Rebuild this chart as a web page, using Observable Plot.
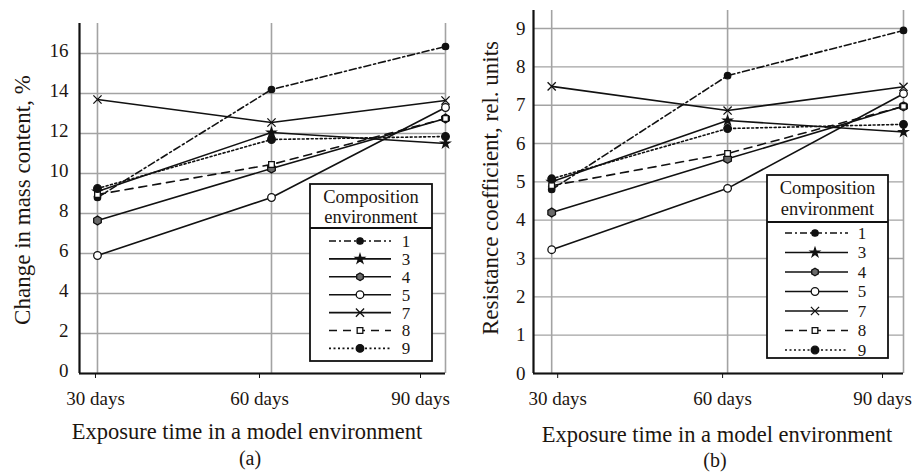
<!DOCTYPE html>
<html><head><meta charset="utf-8">
<script src="https://cdn.jsdelivr.net/npm/d3@7"></script>
<script src="https://cdn.jsdelivr.net/npm/@observablehq/plot@0.6"></script>
<style>
body{margin:0;background:#fff;}
#wrap{display:flex;width:917px;height:475px;overflow:hidden;}
#wrap svg{overflow:visible;display:block;}
</style></head><body><div id="wrap"></div>
<script>
// ---------- data ----------
const days = [30, 60, 90];
const dayTickLabels = ["30 days", "60 days", "90 days"];
const compositions = ["1", "3", "4", "5", "7", "8", "9"];
// (a) change in mass content, %  (rows follow compositions, columns follow days)
const massChange = [
  [8.8, 14.2, 16.35],
  [9.1, 12.05, 11.5],
  [7.65, 10.25, 12.75],
  [5.9, 8.8, 13.3],
  [13.7, 12.55, 13.65],
  [8.95, 10.45, 12.75],
  [9.25, 11.7, 11.85]
];
// (b) resistance coefficient, rel. units
const resistance = [
  [4.8, 7.77, 8.95],
  [5.0, 6.6, 6.3],
  [4.2, 5.6, 6.97],
  [3.23, 4.83, 7.3],
  [7.49, 6.86, 7.48],
  [4.9, 5.74, 6.97],
  [5.08, 6.39, 6.5]
];
const massTicks = [0, 2, 4, 6, 8, 10, 12, 14, 16];
const resistanceTicks = [0, 1, 2, 3, 4, 5, 6, 7, 8, 9];
const xTitle = "Exposure time in a model environment";
const massTitle = "Change in mass content, %";
const resistanceTitle = "Resistance coefficient, rel. units";
const legendTitle = ["Composition", "environment"];
const panelTags = ["(a)", "(b)"];

// ---------- styles ----------
const FONT = "'Liberation Serif', 'DejaVu Serif', serif";
const TEXT = "#1c1510";
const INK = "#111";
const GRID = "#a3a3a3";
const seriesStyle = {
  "1": {dash: "7,3,2,3", symbol: "circle", fill: INK, r: 3.2},
  "3": {dash: null, symbol: "star", fill: INK, r: 2.8},
  "4": {dash: null, symbol: "hexagon", fill: "#6a6a6a", r: 3.8},
  "5": {dash: null, symbol: "circle", fill: "white", r: 3.8},
  "7": {dash: null, symbol: "times", fill: "none", r: 3.8},
  "8": {dash: "8,6", symbol: "square", fill: "white", r: 3.2},
  "9": {dash: "2,2.5", symbol: "circle", fill: INK, r: 3.8}
};

const hexagon = {
  draw(context, size) {
    const rx = Math.sqrt(size / Math.PI), hy = rx * Math.sqrt(3) / 2;
    context.moveTo(0, rx);
    context.lineTo(hy, rx / 2);
    context.lineTo(hy, -rx / 2);
    context.lineTo(0, -rx);
    context.lineTo(-hy, -rx / 2);
    context.lineTo(-hy, rx / 2);
    context.closePath();
  }
};
const d3Symbol = {circle: d3.symbolCircle, star: d3.symbolStar, hexagon, times: d3.symbolTimes, square: d3.symbolSquare};

function addLegend(svg, L) {
  const g = svg.append("g").attr("font-family", FONT);
  g.append("rect").attr("x", L.x).attr("y", L.y).attr("width", L.w).attr("height", L.h)
    .attr("fill", "white").attr("stroke", INK).attr("stroke-width", 1.8);
  g.append("line").attr("x1", L.x).attr("x2", L.x + L.w).attr("y1", L.divider).attr("y2", L.divider)
    .attr("stroke", INK).attr("stroke-width", 1.8);
  legendTitle.forEach((t, i) => g.append("text").attr("x", L.x + L.w / 2).attr("y", L.head[i])
    .attr("dy", "0.35em").attr("text-anchor", "middle").attr("font-size", 18.5).attr("fill", TEXT).text(t));
  compositions.forEach((c, i) => {
    const s = seriesStyle[c];
    const y = L.itemY0 + i * L.step;
    g.append("line").attr("x1", L.sample[0]).attr("x2", L.sample[1]).attr("y1", y).attr("y2", y)
      .attr("stroke", INK).attr("stroke-width", 1.6).attr("stroke-dasharray", s.dash);
    g.append("path").attr("transform", `translate(${L.markX},${y})`)
      .attr("d", d3.symbol(d3Symbol[s.symbol], Math.PI * s.r * s.r)())
      .attr("fill", s.fill).attr("stroke", INK).attr("stroke-width", 1.3);
    g.append("text").attr("x", L.numX).attr("y", y).attr("dy", "0.35em").attr("text-anchor", "middle")
      .attr("font-size", 17).attr("fill", TEXT).text(c);
  });
}

function panel(cfg) {
  const rows = compositions.flatMap((c, i) => days.map((d, j) => ({comp: c, day: d, value: cfg.values[i][j]})));
  const xDomain = [26.9, 90];
  const lines = compositions.map(c => Plot.line(rows.filter(r => r.comp === c), {
    x: "day", y: "value", stroke: INK, strokeWidth: 1.6, strokeDasharray: seriesStyle[c].dash || undefined
  }));
  const dots = compositions.map(c => Plot.dot(rows.filter(r => r.comp === c), {
    x: "day", y: "value", symbol: seriesStyle[c].symbol, r: seriesStyle[c].r,
    fill: seriesStyle[c].fill, stroke: INK, strokeWidth: 1.3
  }));
  const xAxes = days.map((d, i) => Plot.axisX([d], {
    tickSize: 5, tickPadding: 13, label: null, dx: cfg.xLabelDx[i], stroke: INK,
    tickFormat: v => dayTickLabels[days.indexOf(v)], fill: TEXT
  }));
  const svgNode = Plot.plot({
    width: cfg.width, height: 475,
    marginLeft: cfg.marginLeft, marginRight: cfg.marginRight, marginTop: cfg.marginTop, marginBottom: 102,
    x: {domain: xDomain},
    y: {domain: cfg.yDomain},
    style: {fontFamily: FONT, fontSize: "19px", color: TEXT, background: "white", overflow: "visible"},
    marks: [
      Plot.gridY(cfg.yTicks, {stroke: GRID, strokeOpacity: 1, strokeWidth: 1.4}),
      Plot.gridX(days, {stroke: GRID, strokeOpacity: 1, strokeWidth: 1.6}),
      Plot.ruleY([cfg.yDomain[0]], {stroke: INK, strokeWidth: 2.2}),
      Plot.ruleX([xDomain[0]], {stroke: INK, strokeWidth: 2.2}),
      ...lines,
      ...dots,
      Plot.axisY(cfg.yTicks, {tickSize: 0, tickPadding: cfg.yPad, label: null, dy: cfg.yLabelDy, fill: TEXT}),
      ...xAxes
    ]
  });
  const svg = d3.select(svgNode);
  svg.append("text").attr("transform", `translate(${cfg.yTitle[1]},${cfg.yTitle[2]}) rotate(-90)`)
    .attr("text-anchor", "middle").attr("dy", "0.35em").attr("font-family", FONT).attr("font-size", 23)
    .attr("fill", TEXT).text(cfg.yTitle[0]);
  svg.append("text").attr("x", cfg.xTitle[0]).attr("y", cfg.xTitle[1]).attr("text-anchor", "middle")
    .attr("dy", "0.32em").attr("font-family", FONT).attr("font-size", 22.5).attr("fill", TEXT).text(xTitle);
  svg.append("text").attr("x", cfg.tag[1]).attr("y", cfg.tag[2]).attr("text-anchor", "middle")
    .attr("dy", "0.32em").attr("font-family", FONT).attr("font-size", 20).attr("fill", TEXT).text(cfg.tag[0]);
  addLegend(svg, cfg.legend);
  return svgNode;
}

const wrap = document.getElementById("wrap");
wrap.append(panel({
  values: massChange, yTicks: massTicks, yDomain: [0, 17.5],
  width: 458, marginLeft: 79, marginRight: 13, marginTop: 23, yPad: 11, yLabelDy: -3,
  xLabelDx: [-2, -12, -25],
  yTitle: [massTitle, 22, 200], xTitle: [247, 432], tag: [panelTags[0], 250, 459],
  legend: {x: 310, y: 184, w: 122, h: 177, divider: 228, head: [197, 217], itemY0: 241, step: 17.9,
           sample: [329, 391], markX: 360, numX: 406}
}));
wrap.append(panel({
  values: resistance, yTicks: resistanceTicks, yDomain: [0, 9.47],
  width: 459, marginLeft: 75, marginRight: 14, marginTop: 10, yPad: 8, yLabelDy: 0,
  xLabelDx: [6, -5, -21],
  yTitle: [resistanceTitle, 32, 188], xTitle: [259, 435], tag: [panelTags[1], 257, 461],
  legend: {x: 309, y: 175, w: 121, h: 183, divider: 222, head: [188, 209], itemY0: 233, step: 19.5,
           sample: [327, 390], markX: 357, numX: 404}
}));
</script>
</body></html>
